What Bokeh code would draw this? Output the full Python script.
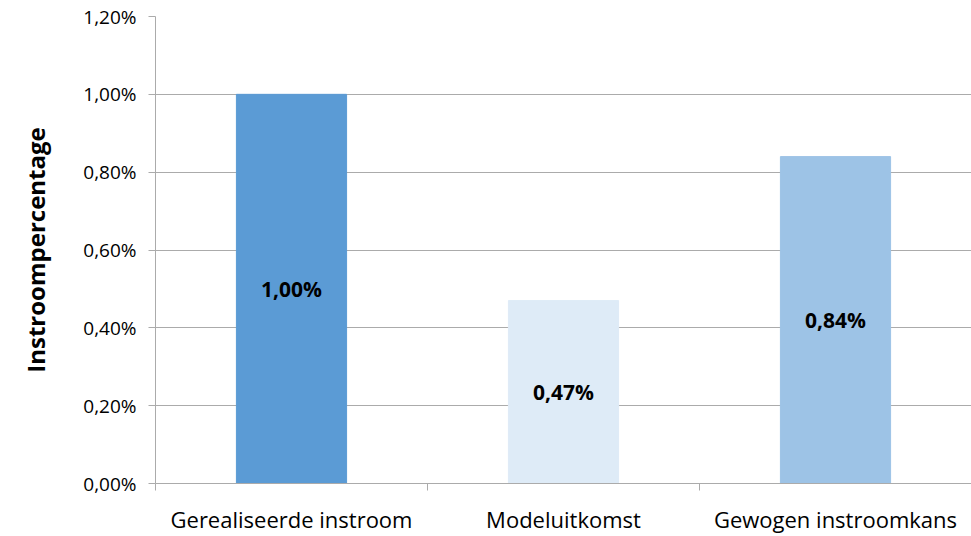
from bokeh.plotting import figure
from bokeh.models import ColumnDataSource, FixedTicker, Range1d, LabelSet
from bokeh.core.properties import value
from bokeh.embed import file_html
from bokeh.resources import INLINE

categories = ["Gerealiseerde instroom", "Modeluitkomst", "Gewogen instroomkans"]
values = [1.00, 0.47, 0.84]          # percent
value_labels = ["1,00%", "0,47%", "0,84%"]
bar_colors = ["#5B9BD5", "#DEEBF7", "#9DC3E6"]
y_ticks = [0.0, 0.2, 0.4, 0.6, 0.8, 1.0, 1.2]
y_tick_labels = ["0,00%", "0,20%", "0,40%", "0,60%", "0,80%", "1,00%", "1,20%"]

FONT = "Open Sans"
GRID = "#ABABAB"

xs = [i + 0.5 for i in range(len(categories))]
src = ColumnDataSource(dict(x=xs, top=values, mid=[v / 2 for v in values],
                            color=bar_colors, lab=value_labels))

p = figure(width=971, height=536, output_backend="svg", toolbar_location=None,
           x_range=Range1d(0, 3), y_range=Range1d(0, 1.2),
           min_border_left=155, min_border_right=0, min_border_top=16,
           min_border_bottom=50)
p.outline_line_color = None
p.background_fill_color = "white"

p.vbar(x="x", top="top", bottom=0, width=0.405, color="color", source=src)

labels = LabelSet(x="x", y="mid", text="lab", source=src, text_align="center",
                  text_baseline="middle", text_font=value(FONT),
                  text_font_style="bold", text_font_size="21px",
                  text_color="black")
p.add_layout(labels)

# x axis
p.xaxis.ticker = FixedTicker(ticks=xs, minor_ticks=[0, 1, 2, 3])
p.xaxis.major_label_overrides = {x: c for x, c in zip(xs, categories)}
p.xaxis.major_tick_line_color = None
p.xaxis.major_tick_out = 7
p.xaxis.major_tick_in = 0
p.xaxis.minor_tick_out = 7
p.xaxis.minor_tick_in = 0
p.xaxis.minor_tick_line_color = GRID
p.xaxis.axis_line_color = GRID
p.xaxis.major_label_standoff = 13
p.xaxis.major_label_text_font = FONT
p.xaxis.major_label_text_font_size = "22px"
p.xaxis.major_label_text_color = "black"
p.xgrid.grid_line_color = None

# y axis
p.yaxis.ticker = FixedTicker(ticks=y_ticks)
p.yaxis.major_label_overrides = {t: l for t, l in zip(y_ticks, y_tick_labels)}
p.yaxis.major_tick_out = 7
p.yaxis.major_tick_in = 0
p.yaxis.minor_tick_line_color = None
p.yaxis.major_tick_line_color = GRID
p.yaxis.axis_line_color = GRID
p.yaxis.major_label_standoff = 12
p.yaxis.major_label_text_font = FONT
p.yaxis.major_label_text_font_size = "19px"
p.yaxis.major_label_text_color = "black"
p.yaxis.axis_label = "Instroompercentage"
p.yaxis.axis_label_text_font = FONT
p.yaxis.axis_label_text_font_style = "bold"
p.yaxis.axis_label_text_font_size = "24px"
p.yaxis.axis_label_text_color = "black"
p.yaxis.axis_label_standoff = 28
p.ygrid.grid_line_color = GRID
p.ygrid.grid_line_width = 1

open("out.html", "w").write(file_html(p, INLINE))
